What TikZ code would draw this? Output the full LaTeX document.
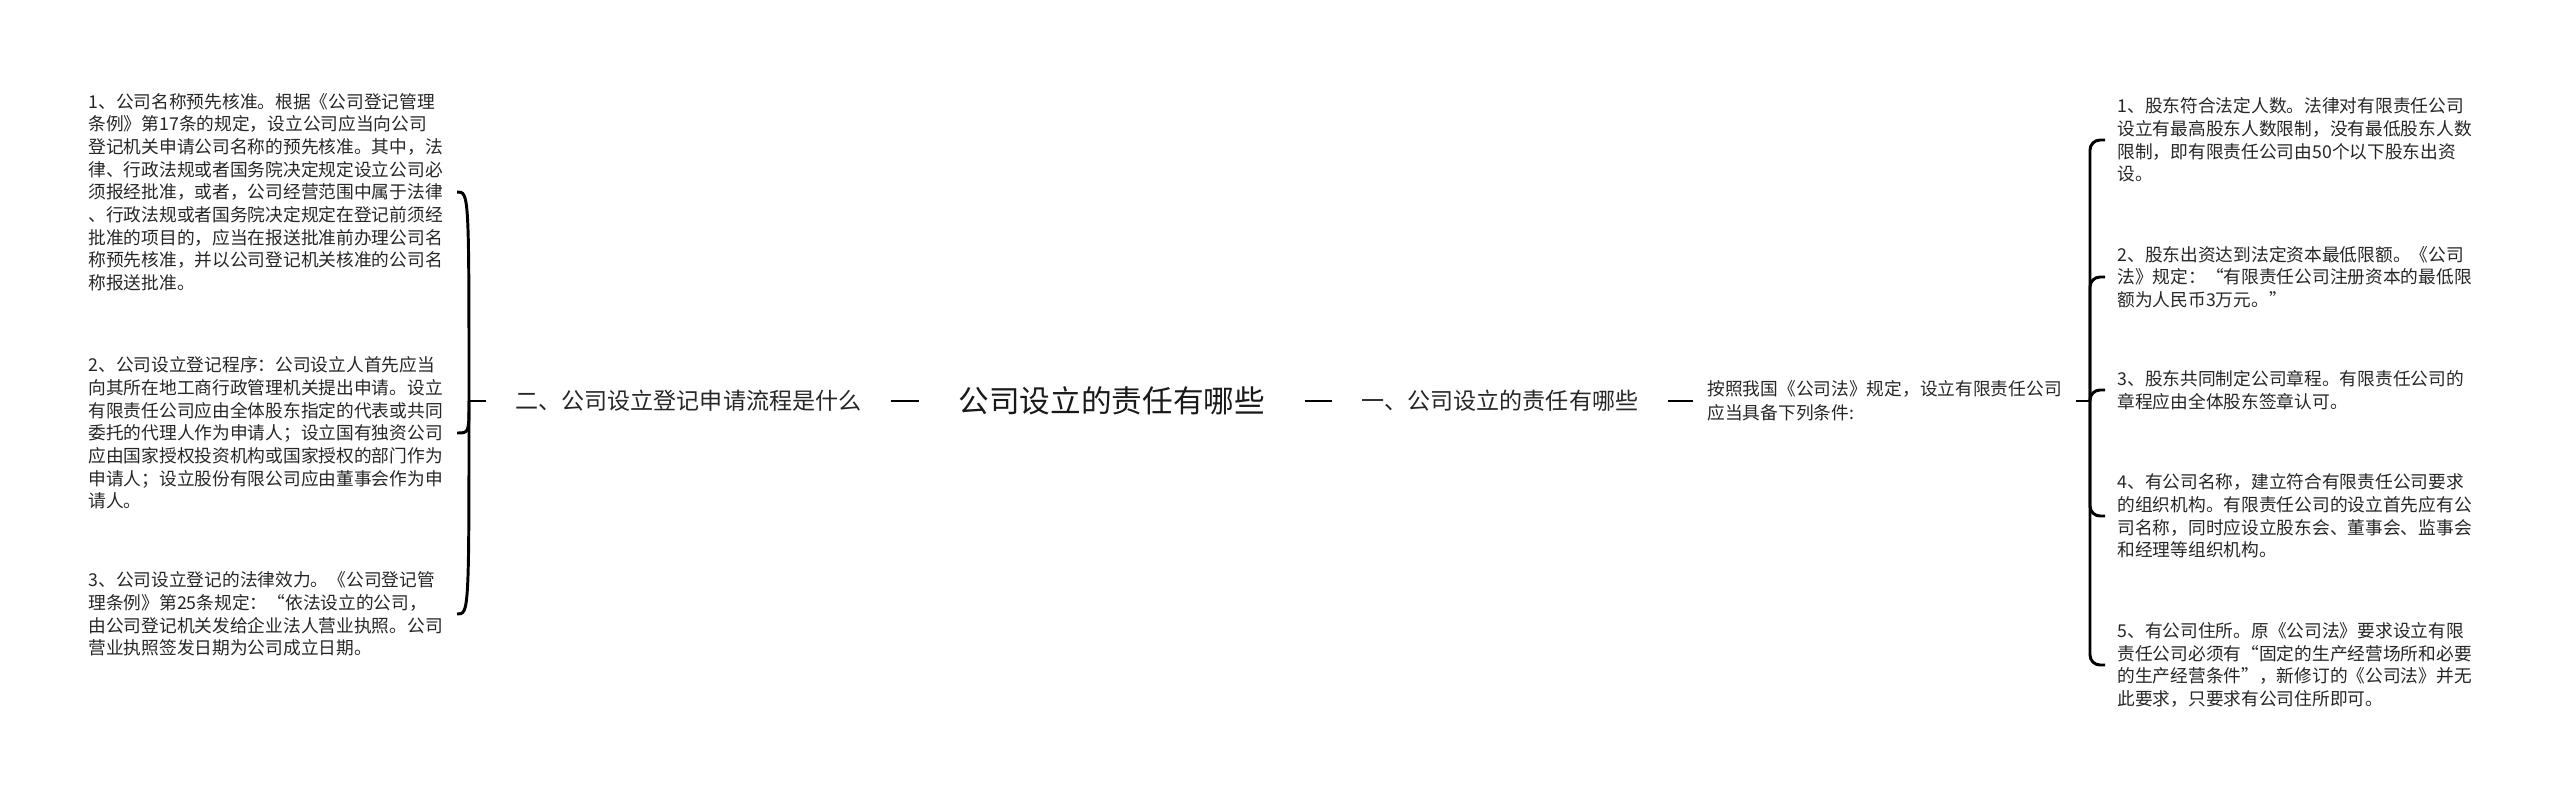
\documentclass[tikz,border=0pt]{standalone}
\usepackage{fontspec}
\setmainfont{Noto Sans CJK SC}

\tikzset{
  leaf/.style={align=left, text width=8.9cm, inner xsep=0.275cm, inner ysep=0pt,
    text=black!85, font=\fontsize{12.6pt}{16.1pt}\selectfont},
  topic/.style={anchor=west, inner xsep=0.7cm, inner ysep=0pt,
    text=black!85, font=\fontsize{16.4pt}{20pt}\selectfont},
  rootbox/.style={anchor=west, inner xsep=0.95cm, inner ysep=0pt,
    text=black!90, font=\fontsize{21.8pt}{26pt}\selectfont}
}

\begin{document}
\begin{tikzpicture}[x=0.025cm, y=-0.025cm, line width=2.1pt]

  \useasboundingbox (0,0) rectangle (2560,796);

  % centre line
  \node[rootbox] (root) at (919,401) {公司设立的责任有哪些};
  \node[topic] (n2) at (486,401) {二、公司设立登记申请流程是什么};
  \node[topic] (n1) at (1332,401) {一、公司设立的责任有哪些};
  \node[anchor=west, align=left, inner xsep=0.325cm, inner ysep=0pt, text=black!85,
    font=\fontsize{12.6pt}{17pt}\selectfont] (intro) at (1693,401)
    {按照我国《公司法》规定，设立有限责任公司\\应当具备下列条件:};

  % left branch
  \node[leaf, anchor=west] (left1) at (76,192) {1、公司名称预先核准。根据《公司登记管理\\
条例》第17条的规定，设立公司应当向公司\\
登记机关申请公司名称的预先核准。其中，法\\
律、行政法规或者国务院决定规定设立公司必\\
须报经批准，或者，公司经营范围中属于法律\\
、行政法规或者国务院决定规定在登记前须经\\
批准的项目的，应当在报送批准前办理公司名\\
称预先核准，并以公司登记机关核准的公司名\\
称报送批准。};
  \node[leaf, anchor=west] (left2) at (76,433) {2、公司设立登记程序：公司设立人首先应当\\
向其所在地工商行政管理机关提出申请。设立\\
有限责任公司应由全体股东指定的代表或共同\\
委托的代理人作为申请人；设立国有独资公司\\
应由国家授权投资机构或国家授权的部门作为\\
申请人；设立股份有限公司应由董事会作为申\\
请人。};
  \node[leaf, anchor=west] (left3) at (76,614) {3、公司设立登记的法律效力。《公司登记管\\
理条例》第25条规定：“依法设立的公司，\\
由公司登记机关发给企业法人营业执照。公司\\
营业执照签发日期为公司成立日期。};

  % right branch
  \node[leaf, anchor=west] (right1) at (2105,140) {1、股东符合法定人数。法律对有限责任公司\\
设立有最高股东人数限制，没有最低股东人数\\
限制，即有限责任公司由50个以下股东出资\\
设。};
  \node[leaf, anchor=west] (right2) at (2105,277) {2、股东出资达到法定资本最低限额。《公司\\
法》规定：“有限责任公司注册资本的最低限\\
额为人民币3万元。”};
  \node[leaf, anchor=west] (right3) at (2105,390) {3、股东共同制定公司章程。有限责任公司的\\
章程应由全体股东签章认可。};
  \node[leaf, anchor=west] (right4) at (2105,516) {4、有公司名称，建立符合有限责任公司要求\\
的组织机构。有限责任公司的设立首先应有公\\
司名称，同时应设立股东会、董事会、监事会\\
和经理等组织机构。};
  \node[leaf, anchor=west] (right5) at (2105,665) {5、有公司住所。原《公司法》要求设立有限\\
责任公司必须有“固定的生产经营场所和必要\\
的生产经营条件”，新修订的《公司法》并无\\
此要求，只要求有公司住所即可。};

  % connectors
  \coordinate (ljunc) at (469,401);
  \coordinate (rjunc) at (2090,401);
  \draw (n2.west) -- (ljunc);
  \draw (n2.east) -- (root.west);
  \draw (root.east) -- (n1.west);
  \draw (n1.east) -- (intro.west);
  \draw (intro.east) -- (rjunc);

  \foreach \i in {1,2,3}
    \draw (ljunc) .. controls (ljunc |- left\i.east) .. (left\i.east);
  \foreach \i in {1,...,5}
    \draw[rounded corners=0.25cm] (rjunc) |- (right\i.west);

\end{tikzpicture}
\end{document}
